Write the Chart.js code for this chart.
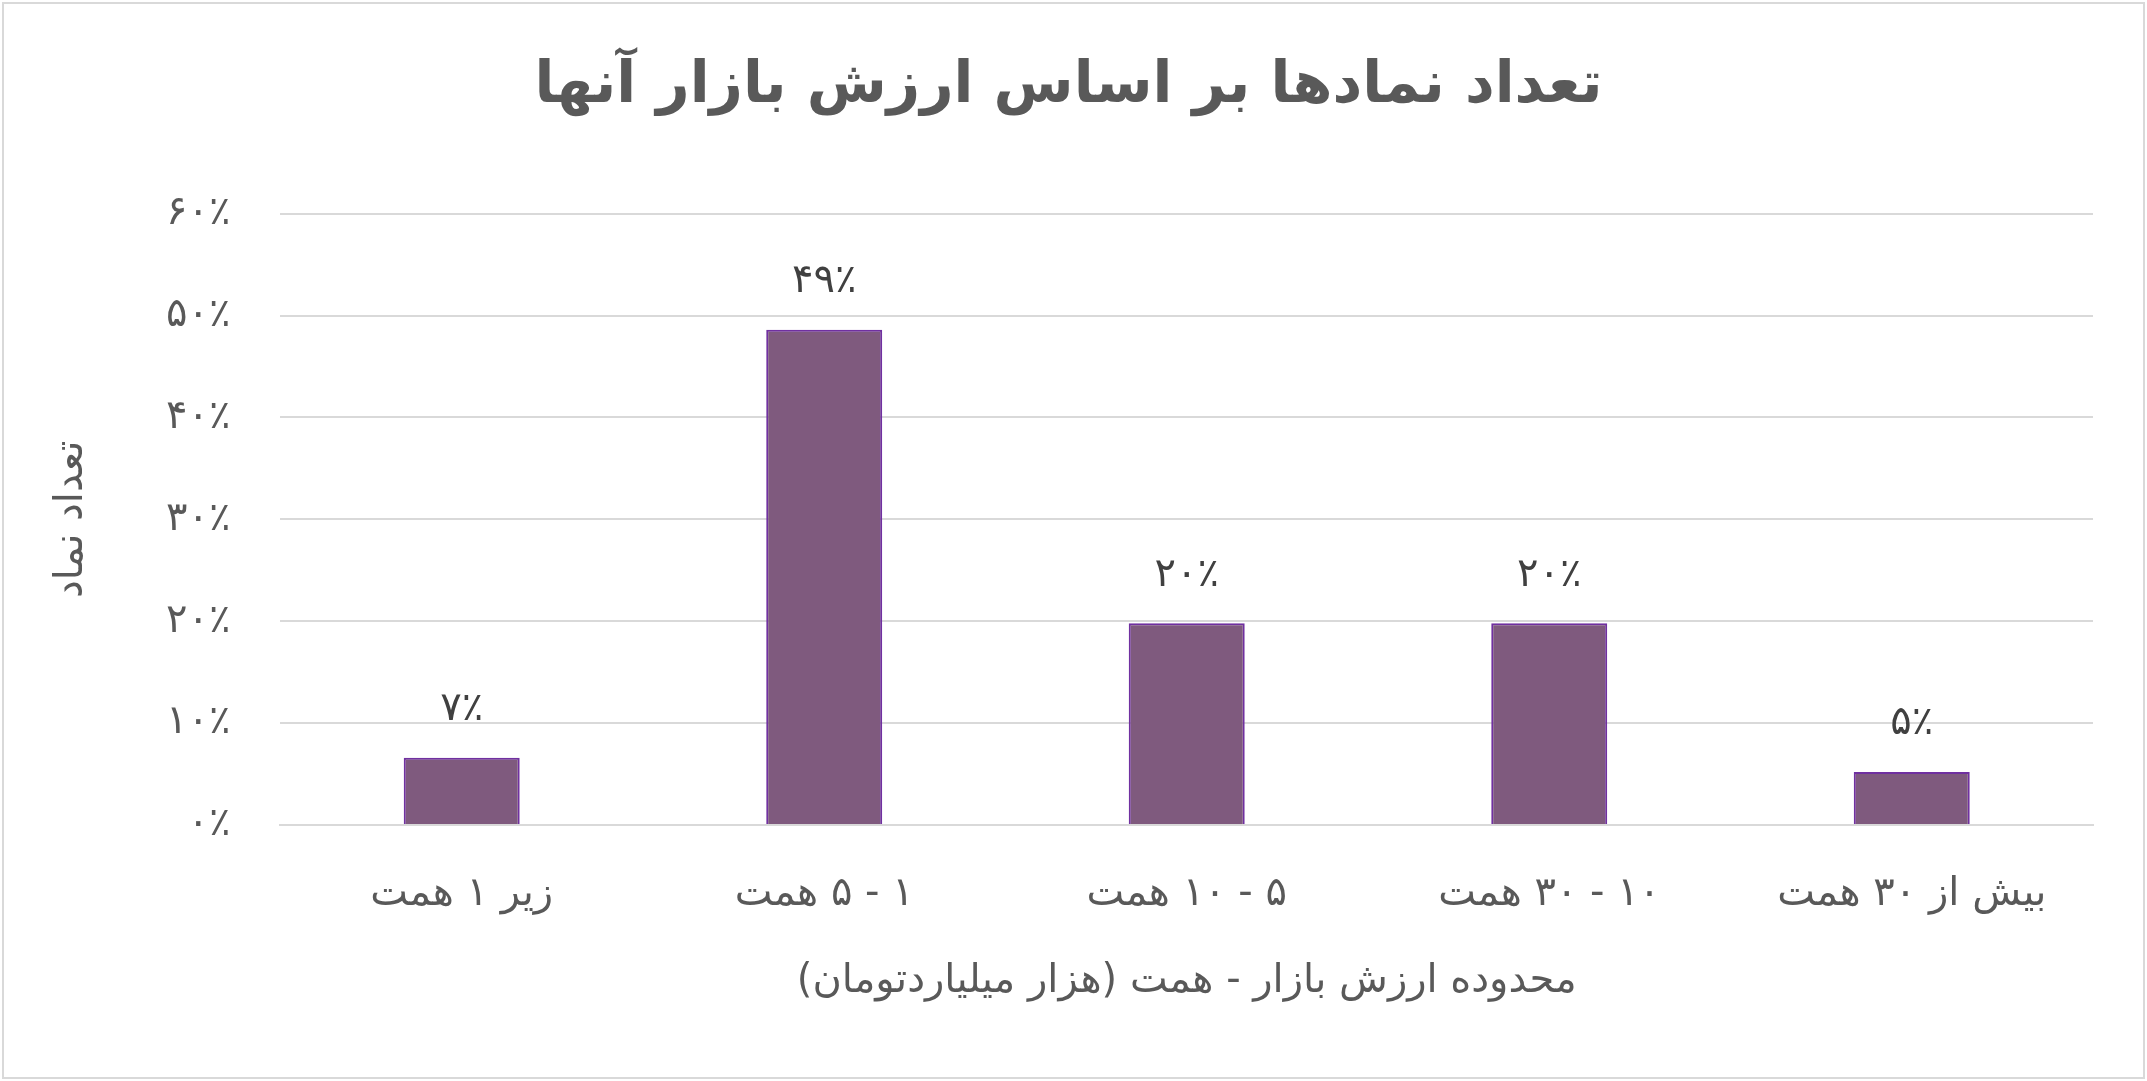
<!DOCTYPE html>
<html dir="rtl">
<head>
<meta charset="utf-8">
<script src="https://cdn.jsdelivr.net/npm/chart.js@4"></script>
<style>
  body { margin: 0; background: #fff; }
  #wrap { position: absolute; left: 2px; top: 2px; width: 2139px; height: 1073px; border: 2px solid #d9d9d9; }
</style>
</head>
<body>
<div id="wrap"><canvas id="myChart" dir="rtl"></canvas></div>
<script>
const categories = ['زیر ۱ همت', '۱ - ۵ همت', '۵ - ۱۰ همت', '۱۰ - ۳۰ همت', 'بیش از ۳۰ همت'];
const values = [6.6, 48.6, 19.8, 19.8, 5.2];
const valueLabels = ['۷٪', '۴۹٪', '۲۰٪', '۲۰٪', '۵٪'];
const tickLabels = ['۰٪', '۱۰٪', '۲۰٪', '۳۰٪', '۴۰٪', '۵۰٪', '۶۰٪'];

const font = "'DejaVu Sans', 'Noto Sans', sans-serif";

// draw value labels above the bars
const barLabels = {
  id: 'barLabels',
  afterDatasetsDraw(chart) {
    const ctx = chart.ctx;
    ctx.save();
    ctx.font = '40px ' + font;
    ctx.fillStyle = '#404040';
    ctx.textAlign = 'center';
    ctx.textBaseline = 'bottom';
    chart.getDatasetMeta(0).data.forEach((bar, i) => {
      ctx.fillText(valueLabels[i], bar.x, bar.y - 28);
    });
    ctx.restore();
  }
};

const config = {
  type: 'bar',
  data: {
    labels: categories,
    datasets: [{
      data: values,
      backgroundColor: '#7f5a7e',
      borderColor: '#7030a0',
      borderWidth: 2,
      barPercentage: 0.32,
      categoryPercentage: 1
    }]
  },
  options: {
    responsive: true,
    maintainAspectRatio: false,
    animation: false,
    layout: { padding: { left: 40, right: 50, top: 20, bottom: 67 } },
    plugins: {
      legend: { display: false },
      tooltip: { enabled: false },
      title: {
        display: true,
        text: 'تعداد نمادها بر اساس ارزش بازار آنها',
        color: '#595959',
        font: { family: font, size: 58, weight: 'bold' },
        padding: { top: 28, bottom: 92 }
      }
    },
    scales: {
      x: {
        grid: { display: false },
        border: { color: '#d9d9d9', width: 2 },
        ticks: { color: '#595959', font: { family: font, size: 40 }, padding: 38 },
        title: {
          display: true,
          text: 'محدوده ارزش بازار - همت (هزار میلیاردتومان)',
          color: '#595959',
          font: { family: font, size: 40 },
          padding: { top: 1 }
        }
      },
      y: {
        min: 0, max: 60,
        ticks: {
          stepSize: 10,
          color: '#595959',
          font: { family: font, size: 40 },
          padding: 50,
          callback: (v, i) => tickLabels[i]
        },
        grid: { color: '#d9d9d9', lineWidth: 2, drawTicks: false },
        border: { display: false },
        title: {
          display: true,
          text: 'تعداد نماد',
          color: '#595959',
          font: { family: font, size: 40 },
          padding: { bottom: 20 }
        }
      }
    }
  },
  plugins: [barLabels]
};

const myChart = new Chart(document.getElementById('myChart'), config);
</script>
</body>
</html>
